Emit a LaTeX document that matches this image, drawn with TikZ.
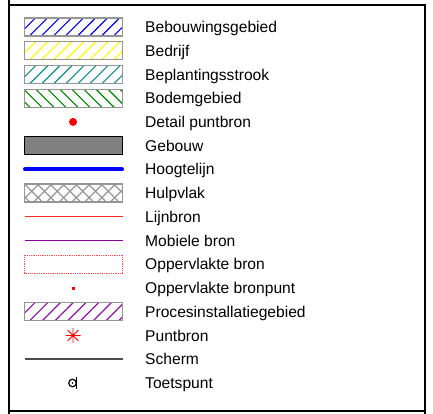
\documentclass[tikz,border=0pt]{standalone}
\usepackage{fontspec}
\setmainfont{Liberation Sans}
\usetikzlibrary{patterns.meta}
\definecolor{plantteal}{RGB}{20,140,140}
\definecolor{soilgreen}{RGB}{0,130,0}
\definecolor{procpurple}{RGB}{140,20,160}
\definecolor{mobpurple}{RGB}{140,0,160}
\definecolor{framegray}{RGB}{150,150,150}

\begin{document}
\begin{tikzpicture}[x=1pt,y=-1pt,
  hatchbox/.style={draw=framegray,line width=1.3pt},
  lbl/.style={anchor=base west,inner sep=0pt,font=\fontsize{15.6}{18}\selectfont}]
  \useasboundingbox (0,0) rectangle (433,414);

  % Frame
  \draw[line width=2pt] (9,0) -- (9,414);
  \draw[line width=2pt] (9,5) -- (425,5) -- (425,414);
  \draw[line width=2pt] (9,411) -- (425,411);

  % Hatched areas
  \draw[hatchbox,pattern={Lines[angle=45,distance=8.5pt,line width=1.1pt]},pattern color=blue] (24.5,18) rectangle (122.5,36);
  \draw[hatchbox,pattern={Lines[angle=45,distance=8.5pt,line width=1.1pt]},pattern color=yellow] (24.5,41.7) rectangle (122.5,59.7);
  \draw[hatchbox,pattern={Lines[angle=45,distance=8.5pt,line width=1.1pt]},pattern color=plantteal] (24.5,65.5) rectangle (122.5,83.5);
  \draw[hatchbox,pattern={Lines[angle=-45,distance=8.5pt,line width=1.1pt]},pattern color=soilgreen] (24.5,89.2) rectangle (122.5,107.2);

  % Point sources and building
  \fill[red] (73,121.9) circle (4);
  \draw[line width=1.3pt,fill=gray] (24.5,136.7) rectangle (122.5,154.7);
  \draw[blue,line width=4pt,line cap=round] (25,169.4) -- (122,169.4);

  % Auxiliary area
  \draw[hatchbox,pattern={Lines[angle=45,distance=9pt,line width=1.2pt]},pattern color=framegray] (24.5,184.1) rectangle (122.5,202.1);
  \fill[pattern={Lines[angle=-45,distance=9pt,line width=1.2pt]},pattern color=framegray] (24.5,184.1) rectangle (122.5,202.1);

  % Line sources
  \draw[red!85,line width=0.9pt] (24.5,216.8) -- (122.5,216.8);
  \draw[mobpurple,line width=0.9pt] (24.5,240.6) -- (122.5,240.6);
  \draw[red!70,line width=0.8pt,densely dotted] (24.5,255.3) rectangle (122.5,273.3);
  \fill[red] (71.5,286.5) rectangle (74.5,289.5);
  \draw[hatchbox,pattern={Lines[angle=45,distance=9pt,line width=1.2pt]},pattern color=procpurple] (24.5,302.8) rectangle (122.5,320.8);

  % Point source, screen, receiver
  \draw[red,line width=0.9pt] (73,328) -- (73,343) (65.5,335.5) -- (80.5,335.5)
    (67.7,330.2) -- (78.3,340.8) (67.7,340.8) -- (78.3,330.2);
  \draw[black!70,line width=1.5pt] (24.5,359.2) -- (122.5,359.2);
  \draw[line width=1.2pt] (72.5,383) circle (3.8);
  \fill (72.5,383) circle (0.9);
  \draw[line width=1.2pt] (76.3,377) -- (76.3,389);

  % Labels
  \foreach \txt [count=\i] in {Bebouwingsgebied,Bedrijf,Beplantingsstrook,Bodemgebied,
      Detail puntbron,Gebouw,Hoogtelijn,Hulpvlak,Lijnbron,Mobiele bron,Oppervlakte bron,
      Oppervlakte bronpunt,Procesinstallatiegebied,Puntbron,Scherm,Toetspunt}
    \node[lbl] (lbl\i) at (145,{27+23.73*(\i-1)+5.6}) {\txt};
\end{tikzpicture}
\end{document}
